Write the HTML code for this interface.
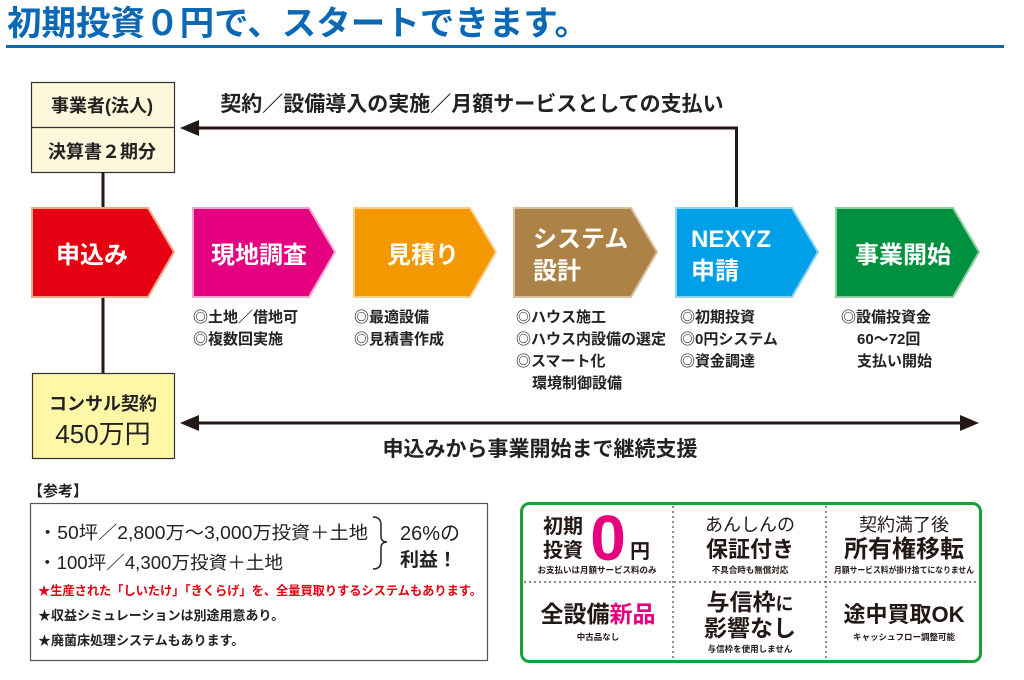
<!DOCTYPE html>
<html><head><meta charset="utf-8"><style>
body{margin:0;background:#fff;width:1024px;height:675px;overflow:hidden;font-family:"Liberation Sans","Noto Sans CJK JP",sans-serif;}
svg text{font-family:"Liberation Sans","Noto Sans CJK JP",sans-serif;}
</style></head><body>
<svg width="1024" height="675" viewBox="0 0 1024 675" xmlns="http://www.w3.org/2000/svg">
<text x="7" y="35" font-size="34" font-weight="700" fill="#0b68b5" textLength="582" lengthAdjust="spacingAndGlyphs">初期投資０円で、スタートできます。</text>
<rect x="6" y="45" width="998" height="3" fill="#0b68b5"/>

<rect x="31.5" y="82.5" width="143" height="90" fill="#fdf7dc" stroke="#333" stroke-width="1.2"/>
<line x1="31" y1="127.5" x2="175" y2="127.5" stroke="#333" stroke-width="1.2"/>
<text x="102" y="112" font-size="18" font-weight="700" fill="#222" text-anchor="middle">事業者(法人)</text>
<text x="102" y="158" font-size="18" font-weight="700" fill="#222" text-anchor="middle">決算書２期分</text>
<line x1="103" y1="172" x2="103" y2="373" stroke="#231815" stroke-width="3"/>

<polyline points="736.5,207 736.5,128 196,128" fill="none" stroke="#231815" stroke-width="3"/>
<polygon points="180,128 199,120 199,136" fill="#231815"/>
<text x="472" y="111" font-size="21" font-weight="700" fill="#222" text-anchor="middle">契約／設備導入の実施／月額サービスとしての支払い</text>

<g stroke-width="2">
<polygon points="32,208 148,208 174,252 148,297 32,297" fill="#e50012" stroke="#f3a68a"/>
<polygon points="193,208 309,208 335,252 309,297 193,297" fill="#e4007f" stroke="#f2a6cf"/>
<polygon points="354,208 470,208 496,252 470,297 354,297" fill="#f39800" stroke="#f8d08a"/>
<polygon points="514,208 631,208 657,252 631,297 514,297" fill="#ac8246" stroke="#d8c09c"/>
<polygon points="676,208 792,208 818,252 792,297 676,297" fill="#00a0e9" stroke="#8fd3f5"/>
<polygon points="836,208 953,208 979,252 953,297 836,297" fill="#009140" stroke="#8cd09d"/>
</g>
<g fill="#fff" font-size="24" font-weight="700">
<text x="92" y="263" text-anchor="middle">申込み</text>
<text x="259" y="263" text-anchor="middle">現地調査</text>
<text x="423" y="263" text-anchor="middle">見積り</text>
<text x="533" y="247">システム</text>
<text x="533" y="279">設計</text>
<text x="691" y="247">NEXYZ</text>
<text x="691" y="279">申請</text>
<text x="903" y="263" text-anchor="middle">事業開始</text>
</g>
<g fill="#222" font-size="15" font-weight="700">
<text x="193" y="322">◎土地／借地可</text>
<text x="193" y="344">◎複数回実施</text>
<text x="354" y="322">◎最適設備</text>
<text x="354" y="344">◎見積書作成</text>
<text x="516" y="322">◎ハウス施工</text>
<text x="516" y="344">◎ハウス内設備の選定</text>
<text x="516" y="366">◎スマート化</text>
<text x="532" y="388">環境制御設備</text>
<text x="680" y="322">◎初期投資</text>
<text x="680" y="344">◎0円システム</text>
<text x="680" y="366">◎資金調達</text>
<text x="841" y="322">◎設備投資金</text>
<text x="857" y="344">60～72回</text>
<text x="857" y="366">支払い開始</text>
</g>

<rect x="32.5" y="373.5" width="142" height="85" fill="#fff7a8" stroke="#333" stroke-width="1.2"/>
<text x="103" y="410" font-size="18" font-weight="700" fill="#222" text-anchor="middle">コンサル契約</text>
<text x="103" y="443" font-size="26" fill="#222" text-anchor="middle">450万円</text>
<line x1="196" y1="423" x2="962" y2="423" stroke="#231815" stroke-width="3"/>
<polygon points="180,423 199,415 199,431" fill="#231815"/>
<polygon points="979,423 960,415 960,431" fill="#231815"/>
<text x="540" y="456" font-size="21" font-weight="700" fill="#222" text-anchor="middle">申込みから事業開始まで継続支援</text>

<text x="28" y="496" font-size="15" font-weight="700" fill="#222">【参考】</text>
<rect x="30.5" y="503.5" width="457" height="157" fill="#fff" stroke="#555" stroke-width="1.2"/>
<g fill="#222" font-size="18">
<text x="38" y="539" textLength="330" lengthAdjust="spacingAndGlyphs">・50坪／2,800万～3,000万投資＋土地</text>
<text x="38" y="569" textLength="245" lengthAdjust="spacingAndGlyphs">・100坪／4,300万投資＋土地</text>
<text x="400" y="540" font-size="20">26%の</text>
<text x="400" y="566" font-size="19" font-weight="700">利益！</text>
</g>
<path d="M373,517 q8,0 8,8 v11 q0,6 6,6 q-6,0 -6,6 v13 q0,8 -8,8" fill="none" stroke="#222" stroke-width="1.5"/>
<text x="38" y="595" font-size="12.5" font-weight="700" fill="#e50012" textLength="444" lengthAdjust="spacingAndGlyphs">★生産された「しいたけ」「きくらげ」を、全量買取りするシステムもあります。</text>
<text x="38" y="620" font-size="13" font-weight="700" fill="#222">★収益シミュレーションは別途用意あり。</text>
<text x="38" y="645" font-size="13" font-weight="700" fill="#222">★廃菌床処理システムもあります。</text>

<rect x="521.5" y="503.5" width="459" height="158" rx="8" fill="#fff" stroke="#19a03c" stroke-width="3"/>
<g stroke="#444" stroke-width="1.2" stroke-dasharray="2,3">
<line x1="673" y1="506" x2="673" y2="659"/>
<line x1="826" y1="506" x2="826" y2="659"/>
<line x1="524" y1="582" x2="978" y2="582"/>
</g>
<g fill="#231815" font-weight="700" text-anchor="middle">
<text x="543" y="533" font-size="20" text-anchor="start">初期</text>
<text x="543" y="557" font-size="20" text-anchor="start">投資</text>
<text x="608" y="560" font-size="64" fill="#e4007f">0</text>
<text x="640" y="558" font-size="20">円</text>
<text x="597" y="573" font-size="8.5">お支払いは月額サービス料のみ</text>
<text x="750" y="531" font-size="18" font-weight="400">あんしんの</text>
<text x="750" y="557" font-size="22">保証付き</text>
<text x="750" y="573" font-size="8.5">不具合時も無償対応</text>
<text x="904" y="531" font-size="18" font-weight="400">契約満了後</text>
<text x="904" y="557" font-size="24">所有権移転</text>
<text x="834" y="573" font-size="8.5" text-anchor="start" textLength="140" lengthAdjust="spacingAndGlyphs">月額サービス料が掛け捨てになりません</text>
<text x="598" y="622" font-size="23">全設備<tspan fill="#e4007f">新品</tspan></text>
<text x="598" y="640" font-size="8.5">中古品なし</text>
<text x="750" y="610" font-size="23">与信枠<tspan font-size="18">に</tspan></text>
<text x="750" y="636" font-size="23">影響なし</text>
<text x="750" y="652" font-size="8.5">与信枠を使用しません</text>
<text x="904" y="622" font-size="22">途中買取OK</text>
<text x="904" y="640" font-size="8.5">キャッシュフロー調整可能</text>
</g>
</svg>
</body></html>
